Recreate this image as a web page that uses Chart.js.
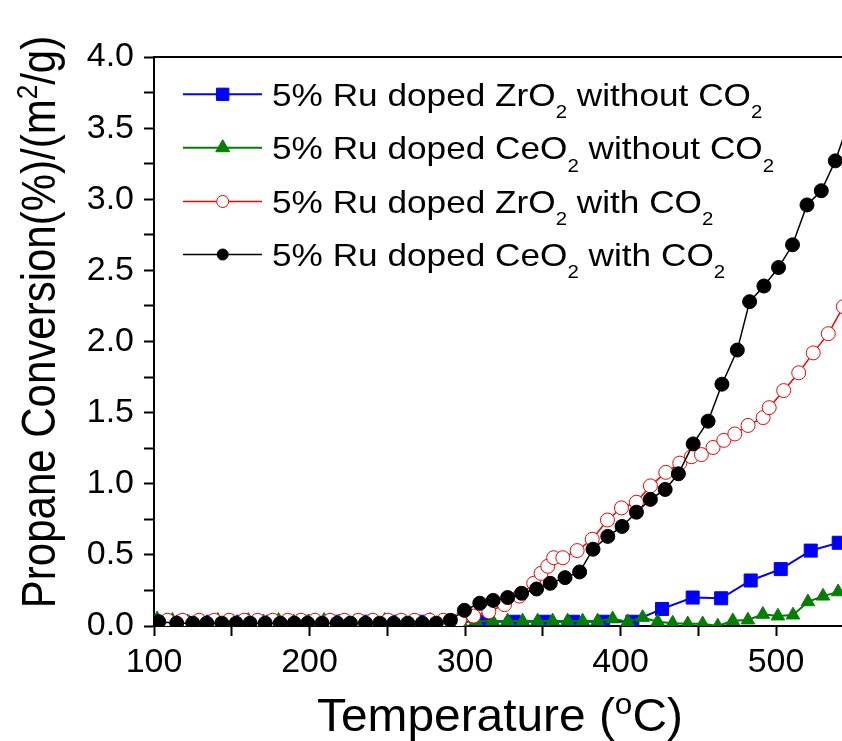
<!DOCTYPE html>
<html>
<head>
<meta charset="utf-8">
<script src="https://cdn.jsdelivr.net/npm/chart.js@4/dist/chart.umd.min.js"></script>
<style>
    html, body { margin: 0; padding: 0; background: #fff; overflow: hidden; }
    #wrap { width: 864px; height: 741px; }
</style>
</head>
<body>
<div id="wrap"><canvas id="conversionChart" width="864" height="741"></canvas></div>
<script>
// 5% Ru doped ZrO2 without CO2 (blue squares)
const zrNoCo2Temp = [100, 118.5, 137.8, 157.1, 176.4, 195.7, 215, 234.3, 253.6, 272.9, 292.2, 311.5,
    331.3, 350.8, 369.5, 388.8, 407.6, 426.7, 446.4, 464.7, 483.7, 503, 522.3, 540.3];
const zrNoCo2Val = [0.03, 0.03, 0.03, 0.03, 0.03, 0.03, 0.03, 0.03, 0.03, 0.03, 0.03, 0.03,
    0.03, 0.03, 0.03, 0.03, 0.03, 0.12, 0.20, 0.195, 0.32, 0.40, 0.53, 0.585];

// 5% Ru doped CeO2 without CO2 (green triangles)
const ceNoCo2Temp = [102, 111.8, 121.5, 131.3, 141, 150.8, 160.6, 170.3, 180.1, 189.8, 199.6,
    209.4, 219.1, 228.9, 238.6, 248.4, 258.2, 267.9, 277.7, 287.4, 297.2, 307,
    317.7, 327.4, 337, 346.7, 356.3, 366, 375.6, 385.3, 394.9, 404.6,
    414.2, 423.9, 433.5, 443.2, 452.8, 462.5, 472.2, 481.9, 491.5, 501.2,
    510.9, 520.5, 530.2, 539.9];
const ceNoCo2Val = [0.05, 0.04, 0.03, 0.03, 0.04, 0.03, 0.04, 0.03, 0.04, 0.03, 0.03,
    0.04, 0.03, 0.03, 0.03, 0.04, 0.03, 0.03, 0.04, 0.03, 0.03, 0.035,
    0.035, 0.035, 0.035, 0.035, 0.035, 0.035, 0.035, 0.035, 0.05, 0.03,
    0.06, 0.03, 0.02, 0.015, 0.015, 0.0, 0.037, 0.042, 0.082, 0.07,
    0.077, 0.17, 0.21, 0.24];

// 5% Ru doped ZrO2 with CO2 (red open circles)
const zrCo2Temp = [108.6, 118.3, 129, 138.7, 148.3, 158, 166.6, 176.3, 186, 194.5,
    203.5, 213.2, 222.4, 231.4, 240.7, 250.4, 259, 267.5, 277.2, 286,
    296.4, 305.5, 315.3, 325.4, 335, 344.2, 348.9, 353.2, 357, 362.9,
    372.1, 381.8, 391.6, 400.6, 410.2, 419.2, 429.1, 438.1, 445.6, 452,
    459.5, 466.4, 473.5, 482, 491.7, 495.6, 504.9, 514.6, 523.9, 533.6,
    543.3];
const zrCo2Val = [0.04, 0.04, 0.04, 0.04, 0.04, 0.04, 0.04, 0.04, 0.04, 0.04,
    0.04, 0.04, 0.04, 0.04, 0.04, 0.04, 0.04, 0.04, 0.04, 0.04,
    0.04, 0.07, 0.10, 0.15, 0.21, 0.30, 0.37, 0.42, 0.48, 0.48,
    0.53, 0.61, 0.745, 0.83, 0.87, 0.985, 1.08, 1.145, 1.19, 1.205,
    1.255, 1.305, 1.35, 1.41, 1.465, 1.535, 1.655, 1.78, 1.92, 2.055,
    2.245];

// 5% Ru doped CeO2 with CO2 (black dots)
const ceCo2Temp = [103, 114.6, 124.9, 133.9, 143.6, 152.8, 161.8, 171.5, 181.2, 190.2,
    198.8, 208.1, 217.8, 226.3, 236, 245.2, 254.2, 263.2, 272.5, 281.5,
    290.6, 299.6, 309.5, 318.1, 327.4, 336.4, 346, 354.8, 364.3, 373.7,
    382.3, 391.8, 401, 410.2, 419.2, 428.7, 437.2, 446.7, 456.3, 465.2,
    475.1, 483, 492.2, 501.6, 510.6, 519.9, 529.1, 538.1, 548];
const ceCo2Val = [0.03, 0.02, 0.02, 0.02, 0.02, 0.02, 0.02, 0.02, 0.02, 0.02,
    0.02, 0.02, 0.02, 0.02, 0.02, 0.02, 0.02, 0.02, 0.02, 0.02,
    0.04, 0.11, 0.16, 0.18, 0.20, 0.23, 0.26, 0.30, 0.34, 0.38,
    0.54, 0.63, 0.70, 0.80, 0.89, 0.96, 1.07, 1.28, 1.44, 1.70,
    1.94, 2.28, 2.39, 2.52, 2.68, 2.96, 3.06, 3.27, 3.58];

const seriesLabels = [
    [{ t: '5% Ru doped ZrO' }, { t: '2', sub: true }, { t: ' without CO' }, { t: '2', sub: true }],
    [{ t: '5% Ru doped CeO' }, { t: '2', sub: true }, { t: ' without CO' }, { t: '2', sub: true }],
    [{ t: '5% Ru doped ZrO' }, { t: '2', sub: true }, { t: ' with CO' }, { t: '2', sub: true }],
    [{ t: '5% Ru doped CeO' }, { t: '2', sub: true }, { t: ' with CO' }, { t: '2', sub: true }]
];
const xTitle = [{ t: 'Temperature (' }, { t: 'o', sup: true }, { t: 'C)' }];
const yTitle = [{ t: 'Propane Conversion(%)/(m' }, { t: '2', sup: true }, { t: '/g)' }];

const FONT = '"Liberation Sans", Arial, sans-serif';

function toPoints(xs, ys) {
    return xs.map((x, i) => ({ x: x, y: ys[i] }));
}

function richWidth(ctx, parts, size, small) {
    let w = 0;
    parts.forEach(p => {
        ctx.font = ((p.sub || p.sup) ? size * small : size) + 'px ' + FONT;
        w += ctx.measureText(p.t).width;
    });
    return w;
}

function drawRich(ctx, parts, size, small, x, y) {
    let cx = x;
    parts.forEach(p => {
        ctx.font = ((p.sub || p.sup) ? size * small : size) + 'px ' + FONT;
        const dy = p.sub ? size * 0.39 : (p.sup ? -size * 0.37 : 0);
        ctx.fillText(p.t, cx, y + dy);
        cx += ctx.measureText(p.t).width;
    });
}

const legendItems = [
    { color: '#0000ff', style: 'rect', radius: 8.7, fill: '#0000ff', lw: 2 },
    { color: '#008000', style: 'triangle', radius: 8, fill: '#008000', lw: 2 },
    { color: '#ff0000', style: 'circle', radius: 6, fill: '#ffffff', lw: 1.5 },
    { color: '#000000', style: 'circle', radius: 5.5, fill: '#000000', lw: 1.5 }
];

const frameAndText = {
    id: 'frameAndText',
    afterDraw(chart) {
        const ctx = chart.ctx;
        const a = chart.chartArea;
        ctx.save();
        ctx.strokeStyle = '#000';
        ctx.lineWidth = 2;
        ctx.beginPath();
        ctx.moveTo(a.left - 1, a.top);
        ctx.lineTo(a.right, a.top);
        ctx.lineTo(a.right, a.bottom);
        ctx.stroke();

        // legend
        const rowY = [94.3, 147.7, 201.5, 254.5];
        legendItems.forEach((it, i) => {
            const y = rowY[i];
            ctx.strokeStyle = it.color;
            ctx.lineWidth = it.lw;
            ctx.beginPath();
            ctx.moveTo(183, y);
            ctx.lineTo(262, y);
            ctx.stroke();
            ctx.fillStyle = it.fill;
            ctx.strokeStyle = it.color;
            ctx.lineWidth = 1;
            Chart.helpers.drawPoint(ctx, { pointStyle: it.style, radius: it.radius, rotation: 0, borderWidth: 1 }, 222.7, y);
            ctx.fillStyle = '#000';
            ctx.textAlign = 'left';
            ctx.textBaseline = 'alphabetic';
            ctx.save();
            ctx.translate(272, y + 11.4);
            ctx.scale(1.1, 1);
            drawRich(ctx, seriesLabels[i], 32, 0.58, 0, 0);
            ctx.restore();
        });

        // x title
        ctx.fillStyle = '#000';
        ctx.save();
        ctx.translate(500, 731);
        ctx.scale(1.04, 1);
        const xw = richWidth(ctx, xTitle, 46, 0.66);
        drawRich(ctx, xTitle, 46, 0.66, -xw / 2, 0);
        ctx.restore();

        // y title
        ctx.save();
        ctx.translate(55, 322);
        ctx.scale(1.15, 1);
        ctx.rotate(-Math.PI / 2);
        const yw = richWidth(ctx, yTitle, 42, 0.62);
        drawRich(ctx, yTitle, 42, 0.62, -yw / 2, 0);
        ctx.restore();

        ctx.restore();
    }
};

const conversionCtx = document.getElementById('conversionChart');
new Chart(conversionCtx, {
    type: 'line',
    data: {
        datasets: [
            {
                label: '5% Ru doped ZrO2 without CO2',
                data: toPoints(zrNoCo2Temp, zrNoCo2Val),
                borderColor: '#0000ff',
                backgroundColor: '#0000ff',
                borderWidth: 2,
                pointStyle: 'rect',
                pointRadius: 9.2,
                pointBorderWidth: 1,
                order: 3,
            },
            {
                label: '5% Ru doped CeO2 without CO2',
                data: toPoints(ceNoCo2Temp, ceNoCo2Val),
                borderColor: '#008000',
                backgroundColor: '#008000',
                borderWidth: 2,
                pointStyle: 'triangle',
                pointRadius: 7.8,
                pointBorderWidth: 1,
                order: 2,
            },
            {
                label: '5% Ru doped ZrO2 with CO2',
                data: toPoints(zrCo2Temp, zrCo2Val),
                borderColor: '#ff0000',
                backgroundColor: '#ffffff',
                pointBackgroundColor: '#ffffff',
                borderWidth: 1.5,
                pointStyle: 'circle',
                pointRadius: 7,
                pointBorderWidth: 1,
                order: 1,
            },
            {
                label: '5% Ru doped CeO2 with CO2',
                data: toPoints(ceCo2Temp, ceCo2Val),
                borderColor: '#000000',
                backgroundColor: '#000000',
                borderWidth: 1.5,
                pointStyle: 'circle',
                pointRadius: 7,
                pointBorderWidth: 1,
                order: 0,
            }
        ]
    },
    options: {
        responsive: false,
        animation: false,
        events: [],
        layout: { padding: { top: 57, right: 3, left: 0, bottom: 0 } },
        plugins: {
            legend: { display: false },
            tooltip: { enabled: false }
        },
        scales: {
            x: {
                type: 'linear',
                min: 100,
                max: 550,
                afterFit: function (scale) { scale.height = 115; },
                ticks: {
                    stepSize: 50,
                    autoSkip: false,
                    maxRotation: 0,
                    color: '#000',
                    padding: 6,
                    font: { family: FONT, size: 34 },
                    callback: function (v) { return v % 100 === 0 ? String(v) : ''; }
                },
                grid: {
                    drawOnChartArea: false,
                    drawTicks: true,
                    tickLength: 10,
                    tickWidth: 2,
                    tickColor: '#000'
                },
                border: { display: true, color: '#000', width: 2 }
            },
            y: {
                min: 0,
                max: 4,
                afterFit: function (scale) { scale.width = 154; },
                ticks: {
                    stepSize: 0.25,
                    autoSkip: false,
                    color: '#000',
                    padding: 10,
                    font: { family: FONT, size: 34 },
                    callback: function (v) { return Math.abs(v * 2 - Math.round(v * 2)) < 1e-6 ? v.toFixed(1) : ''; }
                },
                grid: {
                    drawOnChartArea: false,
                    drawTicks: true,
                    tickLength: 10,
                    tickWidth: 2,
                    tickColor: '#000'
                },
                border: { display: true, color: '#000', width: 2 }
            }
        }
    },
    plugins: [frameAndText]
});
</script>
</body>
</html>
